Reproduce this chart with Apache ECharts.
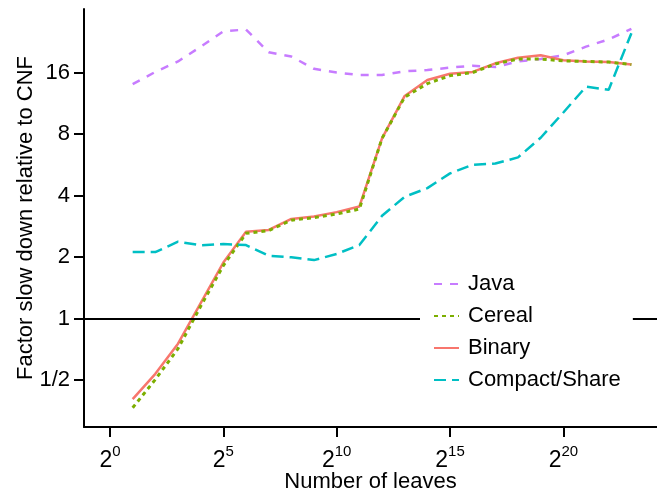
<!DOCTYPE html>
<html>
<head>
<meta charset="utf-8">
<script src="https://cdn.jsdelivr.net/npm/echarts@6/dist/echarts.min.js"></script>
<style>
html,body{margin:0;padding:0;background:#fff;}
#chart{width:657px;height:490px;}
</style>
</head>
<body>
<div id="chart"></div>
<script>
// exponent of number of leaves (2^k)
const leafExp = [1,2,3,4,5,6,7,8,9,10,11,12,13,14,15,16,17,18,19,20,21,22,23];
// factor slow down relative to CNF
const java    = [14.03,16.11,18.13,21.41,25.46,25.99,20.11,19.16,16.68,16.00,15.56,15.56,16.22,16.45,16.91,17.27,17.03,18.13,18.64,19.43,21.41,23.26,26.17];
const cereal  = [0.366,0.503,0.712,1.149,1.815,2.612,2.694,3.031,3.117,3.249,3.434,7.62,12.13,14.12,15.45,16.00,17.63,18.64,18.64,18.25,18.13,18.00,17.51];
const binary  = [0.403,0.536,0.753,1.189,1.879,2.657,2.713,3.074,3.160,3.317,3.531,7.62,12.29,14.72,15.78,16.11,17.75,18.90,19.43,18.38,18.13,18.00,17.51];
const compact = [2.114,2.114,2.378,2.282,2.313,2.289,2.028,1.993,1.932,2.071,2.289,3.182,3.945,4.347,5.134,5.657,5.736,6.147,7.674,10.20,13.64,13.18,24.93];
const xTickExp = [0,5,10,15,20];
const yTickExp = [-1,0,1,2,3,4];
const legendOrder = ['Java','Cereal','Binary','Compact/Share'];

const FONT = '"Liberation Sans", Arial, Helvetica, sans-serif';
const toPts = arr => leafExp.map((k,i)=>[k, Math.log2(arr[i])]);
const yLabel = v => v < 0 ? '1/' + Math.pow(2,-v) : String(Math.pow(2,v));

const chart = echarts.init(document.getElementById('chart'), null, {renderer:'canvas'});
chart.setOption({
  animation:false,
  backgroundColor:'#fff',
  grid:{left:84, right:0, top:9, bottom:63, containLabel:false, outerBoundsMode:'none'},
  xAxis:{
    type:'value', min:-1.147, max:24.13,
    name:'Number of leaves', nameLocation:'middle', nameGap:44, nameMoveOverlap:false,
    nameTextStyle:{fontFamily:FONT, fontSize:22, color:'#000'},
    axisLine:{show:true, onZero:false, lineStyle:{color:'#000', width:2}},
    axisTick:{show:true, length:10, inside:false, customValues:xTickExp, lineStyle:{color:'#000', width:2}},
    axisLabel:{show:true, margin:17, customValues:xTickExp,
      formatter:v=>'{b|2}{s|'+v+'}',
      rich:{
        b:{fontFamily:FONT, fontSize:23, color:'#000', lineHeight:34},
        s:{fontFamily:FONT, fontSize:15, color:'#000', lineHeight:15, verticalAlign:'top'}
      }},
    splitLine:{show:false}
  },
  yAxis:{
    type:'value', min:-1.764, max:5.033,
    name:'Factor slow down relative to CNF', nameLocation:'middle', nameGap:47, nameMoveOverlap:false,
    nameTextStyle:{fontFamily:FONT, fontSize:22, color:'#000'},
    axisLine:{show:true, onZero:false, lineStyle:{color:'#000', width:2}},
    axisTick:{show:true, length:10, inside:false, customValues:yTickExp, lineStyle:{color:'#000', width:2}},
    axisLabel:{show:true, margin:14, customValues:yTickExp, formatter:yLabel,
      fontFamily:FONT, fontSize:22, color:'#000'},
    splitLine:{show:false}
  },
  legend:{
    data:legendOrder,
    orient:'vertical', left:420, top:265,
    padding:[8,12,8,13],
    backgroundColor:'#fff',
    itemWidth:25, itemHeight:14, itemGap:10,
    itemStyle:{opacity:0},
    textStyle:{fontFamily:FONT, fontSize:22, color:'#000', lineHeight:22, padding:[0,0,0,4]},
    z:10
  },
  series:[
    {name:'Java', type:'line', data:toPts(java), symbol:'none', showSymbol:false,
     lineStyle:{color:'#C77CFF', width:2.5, type:[8,8]}, itemStyle:{color:'#C77CFF'},
     markLine:{silent:true, symbol:'none', label:{show:false},
       lineStyle:{color:'#000', width:2, type:'solid'}, data:[{yAxis:0}]}},
    {name:'Binary', type:'line', data:toPts(binary), symbol:'none', showSymbol:false,
     lineStyle:{color:'#F8766D', width:2.5, type:'solid'}, itemStyle:{color:'#F8766D'}},
    {name:'Cereal', type:'line', data:toPts(cereal), symbol:'none', showSymbol:false,
     lineStyle:{color:'#7CAE00', width:3, type:[4,4]}, itemStyle:{color:'#7CAE00'}},
    {name:'Compact/Share', type:'line', data:toPts(compact), symbol:'none', showSymbol:false,
     lineStyle:{color:'#00BFC4', width:2.5, type:[12,6]}, itemStyle:{color:'#00BFC4'}}
  ]
});
</script>
</body>
</html>
